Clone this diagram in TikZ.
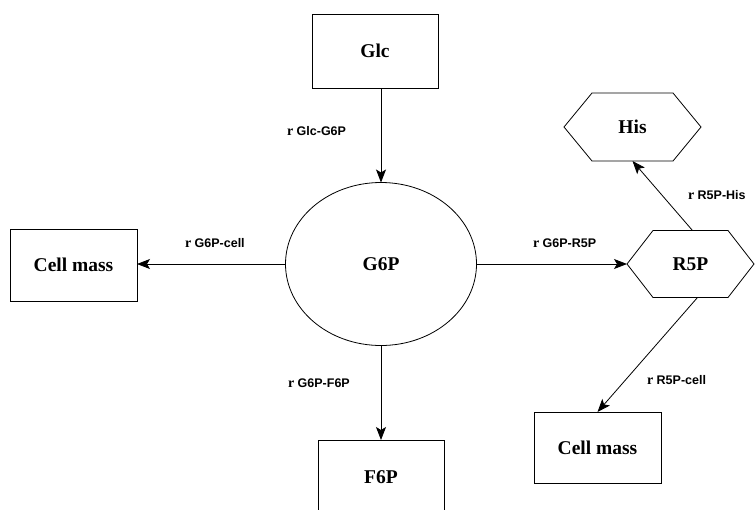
\documentclass[tikz,border=0pt]{standalone}
\usepackage{fontspec}
\setmainfont{Liberation Serif}
\newfontfamily\lblfont{Liberation Sans}
\usetikzlibrary{arrows.meta,shapes.geometric}
\newcommand{\rr}{{\rmfamily\fontsize{14}{14}\selectfont r}}
\begin{document}
\begin{tikzpicture}[x=1pt,y=-1pt,
  every node/.style={inner sep=0pt,outer sep=0pt},
  boxnode/.style={draw,line width=0.8pt,font=\bfseries\fontsize{19.5}{21}\selectfont},
  hexnode/.style={font=\bfseries\fontsize{19.5}{21}\selectfont},
  lbl/.style={anchor=west,font=\lblfont\bfseries\fontsize{12.5}{14}\selectfont},
  conn/.style={line width=0.8pt,-{Stealth[length=13pt,width=10pt,inset=3pt]}}]
\useasboundingbox (0,0) rectangle (755,509);
\begin{scope}
\clip (0,0) rectangle (755,509);
\node[boxnode,minimum width=126pt,minimum height=74pt] (glc) at (375,51) {Glc};
\node[draw,ellipse,line width=0.8pt,minimum width=191pt,minimum height=163pt,font=\bfseries\fontsize{19.5}{21}\selectfont] (g6p) at (381,264) {G6P};
\node[boxnode,minimum width=127pt,minimum height=72pt] (cm1) at (73.5,265) {Cell mass};
\node[boxnode,minimum width=126pt,minimum height=74pt] (f6p) at (381,477) {F6P};
\node[boxnode,minimum width=127pt,minimum height=71pt] (cm2) at (597.5,447.5) {Cell mass};
\node[hexnode,minimum width=137pt,minimum height=68pt] (his) at (632.5,127) {His};
\node[hexnode,minimum width=127pt,minimum height=67pt] (r5p) at (690.5,264) {R5P};
\draw[line width=0.8pt] (his.west) -- ([xshift=28pt]his.north west) -- ([xshift=-28pt]his.north east) -- (his.east) -- ([xshift=-28pt]his.south east) -- ([xshift=28pt]his.south west) -- cycle;
\draw[line width=0.8pt] (r5p.west) -- ([xshift=26pt]r5p.north west) -- ([xshift=-26pt]r5p.north east) -- (r5p.east) -- ([xshift=-26pt]r5p.south east) -- ([xshift=26pt]r5p.south west) -- cycle;
\draw[conn] (glc.south -| g6p.north) -- (g6p.north);
\draw[conn] (g6p.west) -- (g6p.west -| cm1.east);
\draw[conn] (g6p.east) -- (r5p.west);
\draw[conn] (g6p.south) -- (f6p.north);
\draw[conn] ([xshift=2pt]r5p.north) -- (his.south);
\draw[conn] ([xshift=7pt]r5p.south) -- (cm2.north);
\node[lbl] (l1) at (287,131) {\rr\ Glc-G6P};
\node[lbl] (l2) at (185,243) {\rr\ G6P-cell};
\node[lbl] (l3) at (533,243) {\rr\ G6P-R5P};
\node[lbl] (l4) at (688,195) {\rr\ R5P-His};
\node[lbl] (l5) at (288,383) {\rr\ G6P-F6P};
\node[lbl] (l6) at (647,380) {\rr\ R5P-cell};
\end{scope}
\end{tikzpicture}
\end{document}
